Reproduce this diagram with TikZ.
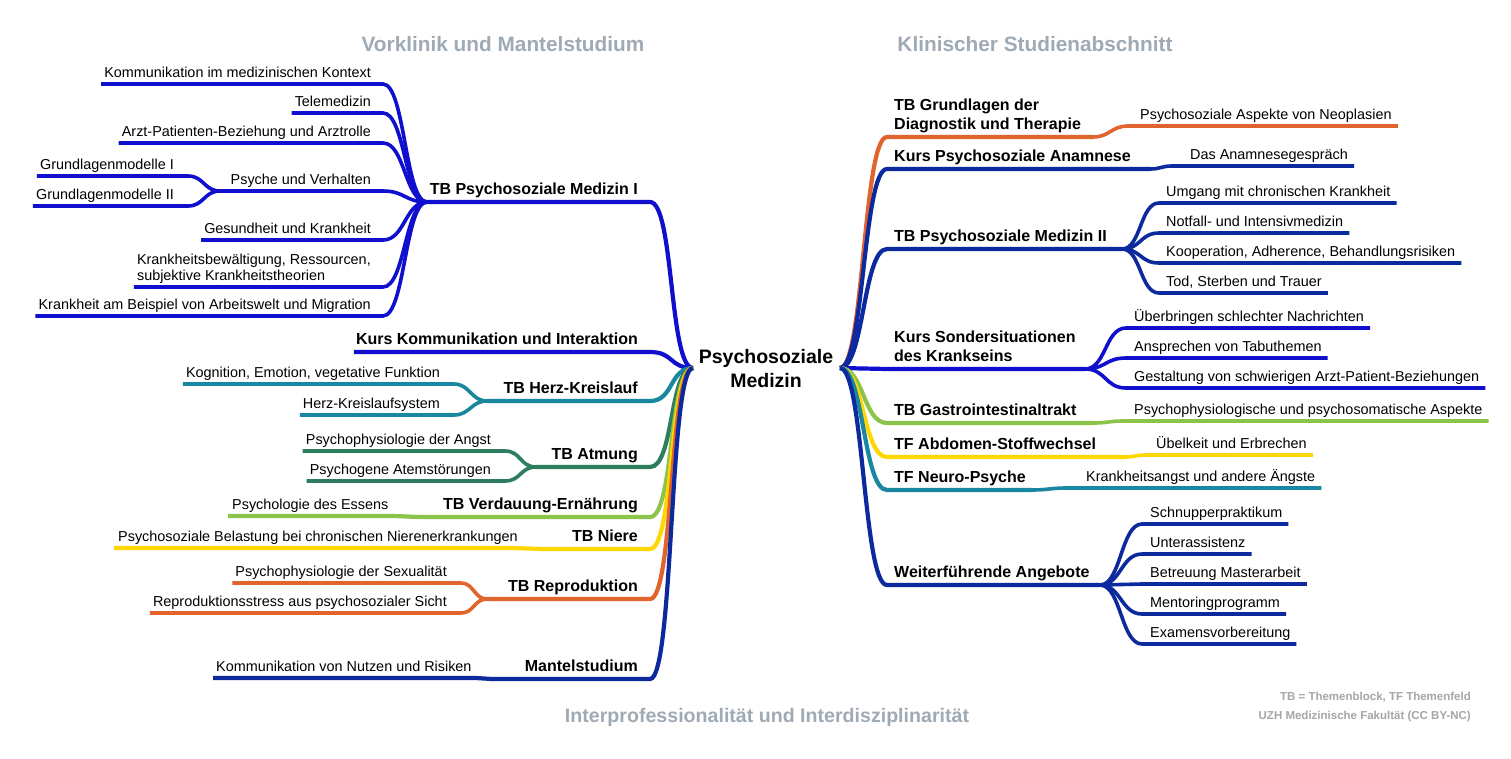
\documentclass[tikz,border=0pt]{standalone}
\usepackage{fontspec}
\setmainfont{Liberation Sans}
\usetikzlibrary{calc}
\definecolor{cBlue}{RGB}{15,15,205}
\definecolor{cNavy}{RGB}{12,42,158}
\definecolor{cTeal}{RGB}{25,135,160}
\definecolor{cGreen}{RGB}{45,125,95}
\definecolor{cLime}{RGB}{140,195,75}
\definecolor{cYellow}{RGB}{255,215,0}
\definecolor{cOrange}{RGB}{226,100,45}
\definecolor{cGray}{RGB}{160,170,180}
\definecolor{cGrayS}{RGB}{165,165,170}
\tikzset{
  t1/.style={font=\fontsize{16}{19}\selectfont\bfseries, inner sep=0pt, text=black},
  t2/.style={font=\fontsize{14.4}{16}\selectfont, inner sep=0pt, text=black},
  b1/.style={line width=4.2pt},
  b2/.style={line width=3.6pt},
  hdr/.style={font=\fontsize{20.8}{24}\selectfont\bfseries, text=cGray, inner sep=0pt},
  ftr/.style={font=\fontsize{19.6}{24}\selectfont\bfseries, text=cGray, inner sep=0pt},
  note/.style={font=\fontsize{11.5}{13}\selectfont\bfseries, text=cGrayS, inner sep=0pt},
}
% left leaf: name, color, hub, curve-end x, line y, text right x, text, control
\newcommand{\LKid}[8]{%
  \node[t2,anchor=base east] (#1) at (#6,#5-7) {#7};
  \coordinate (#1-r) at (#4,#5);
  \coordinate (#1-l) at ($(#1.west |- #1-r)+(-3,0)$);
  \draw[b2,#2] (#3) .. controls +(-#8,0) and +(#8,0) .. (#1-r) -- (#1-l);
}
% right leaf: name, color, hub, line start x, line y, text left x, text, control
\newcommand{\RKid}[8]{%
  \node[t2,anchor=base west] (#1) at (#6,#5-7) {#7};
  \coordinate (#1-l) at (#4,#5);
  \coordinate (#1-r) at ($(#1.east |- #1-l)+(6,0)$);
  \draw[b2,#2] (#3) .. controls +(#8,0) and +(-#8,0) .. (#1-l) -- (#1-r);
}
% left main branch: name, color, line y, hub x, text
\newcommand{\LMain}[5]{%
  \node[t1,anchor=base east] (#1) at (638,#3-8) {#5};
  \coordinate (#1-e) at (650,#3);
  \coordinate (#1-h) at (#4,#3);
  \draw[b1,#2] (rootL) .. controls +(-24,0) and +(24,0) .. (#1-e) -- (#1-h);
}
% right main branch: name, color, line y, hub x, text
\newcommand{\RMain}[5]{%
  \node[t1,anchor=base west] (#1) at (894,#3-8) {#5};
  \coordinate (#1-s) at (887,#3);
  \coordinate (#1-h) at (#4,#3);
  \draw[b1,#2] (rootR) .. controls +(24,0) and +(-24,0) .. (#1-s) -- (#1-h);
}
\begin{document}
\begin{tikzpicture}[x=1pt,y=-1pt]
\fill[white] (0,0) rectangle (1511,758);
\useasboundingbox (0,0) rectangle (1511,758);

% headers and footer
\node[hdr,anchor=base] (hv) at (503,51.5) {Vorklinik und Mantelstudium};
\node[hdr,anchor=base] (hk) at (1035,51.5) {Klinischer Studienabschnitt};
\node[ftr,anchor=base] (hi) at (767,722) {Interprofessionalität und Interdisziplinarität};
\node[note,anchor=base east] (n1) at (1471,700) {TB = Themenblock, TF Themenfeld};
\node[note,anchor=base east] (n2) at (1471,719) {UZH Medizinische Fakultät (CC BY-NC)};

% root
\node[font=\fontsize{19.5}{23.3}\selectfont\bfseries, inner sep=0pt, anchor=base] (root) at (766,387)
  {\begin{tabular}[b]{@{}c@{}}Psychosoziale\\Medizin\end{tabular}};
\coordinate (rootL) at (693,368);
\coordinate (rootR) at (840,368);

% ---------------- LEFT ----------------
\LMain{pm}{cBlue}{202}{427}{TB Psychosoziale Medizin I}
\LKid{pa}{cBlue}{pm-h}{383}{84}{371}{Kommunikation im medizinischen Kontext}{22}
\LKid{pb}{cBlue}{pm-h}{383}{113}{371}{Telemedizin}{22}
\LKid{pc}{cBlue}{pm-h}{383}{143}{371}{Arzt-Patienten-Beziehung und Arztrolle}{22}
\node[t2,anchor=base east] (pd) at (371,191-7) {Psyche und Verhalten};
\coordinate (pd-r) at (383,191);
\coordinate (pd-h) at (220,191);
\draw[b2,cBlue] (pm-h) .. controls +(-22,0) and +(22,0) .. (pd-r) -- (pd-h);
\LKid{pda}{cBlue}{pd-h}{188}{176}{174}{Grundlagenmodelle I}{16}
\LKid{pdb}{cBlue}{pd-h}{188}{206}{174}{Grundlagenmodelle II}{16}
\LKid{pe}{cBlue}{pm-h}{383}{240}{371}{Gesundheit und Krankheit}{22}
\LKid{pf}{cBlue}{pm-h}{383}{287}{371}{\begin{tabular}[b]{@{}l@{}}Krankheitsbewältigung, Ressourcen,\\subjektive Krankheitstheorien\end{tabular}}{22}
\LKid{pg}{cBlue}{pm-h}{383}{316}{371}{Krankheit am Beispiel von Arbeitswelt und Migration}{22}

\node[t1,anchor=base east] (kk) at (638,352-8) {Kurs Kommunikation und Interaktion};
\coordinate (kk-e) at (650,352);
\coordinate (kk-l) at ($(kk.west |- kk-e)+(-2,0)$);
\draw[b1,cBlue] (rootL) .. controls +(-24,0) and +(24,0) .. (kk-e) -- (kk-l);

\LMain{hk1}{cTeal}{401}{487}{TB Herz-Kreislauf}
\LKid{hka}{cTeal}{hk1-h}{454}{384}{440}{Kognition, Emotion, vegetative Funktion}{16}
\LKid{hkb}{cTeal}{hk1-h}{454}{415}{440}{Herz-Kreislaufsystem}{16}

\LMain{at}{cGreen}{467}{536}{TB Atmung}
\LKid{ata}{cGreen}{at-h}{505}{451}{491}{Psychophysiologie der Angst}{16}
\LKid{atb}{cGreen}{at-h}{505}{481}{491}{Psychogene Atemstörungen}{16}

\LMain{vd}{cLime}{517}{428}{TB Verdauung-Ernährung}
\node[t2,anchor=base west] (vda) at (232,516-7) {Psychologie des Essens};
\coordinate (vda-r) at (386,516);
\coordinate (vda-l) at ($(vda.west |- vda-r)+(-4,0)$);
\draw[b1,cLime] (vd-h) .. controls +(-20,0) and +(20,0) .. (vda-r) -- (vda-l);

\LMain{ni}{cYellow}{549}{543}{TB Niere}
\node[t2,anchor=base west] (nia) at (118,548-7) {Psychosoziale Belastung bei chronischen Nierenerkrankungen};
\coordinate (nia-r) at (513,548);
\coordinate (nia-l) at ($(nia.west |- nia-r)+(-4,0)$);
\draw[b1,cYellow] (ni-h) .. controls +(-15,0) and +(15,0) .. (nia-r) -- (nia-l);

\LMain{rp}{cOrange}{599}{487}{TB Reproduktion}
\LKid{rpa}{cOrange}{rp-h}{461}{583}{447}{Psychophysiologie der Sexualität}{13}
\LKid{rpb}{cOrange}{rp-h}{461}{613}{447}{Reproduktionsstress aus psychosozialer Sicht}{13}

\LMain{ms}{cNavy}{679}{492}{Mantelstudium}
\node[t2,anchor=base west] (msa) at (216,678-7) {Kommunikation von Nutzen und Risiken};
\coordinate (msa-r) at (476,678);
\coordinate (msa-l) at ($(msa.west |- msa-r)+(-3,0)$);
\draw[b1,cNavy] (ms-h) .. controls +(-8,0) and +(8,0) .. (msa-r) -- (msa-l);

% ---------------- RIGHT ----------------
\RMain{gd}{cOrange}{137}{1093}{\begin{tabular}[b]{@{}l@{}}TB Grundlagen der\\Diagnostik und Therapie\end{tabular}}
\RKid{gda}{cOrange}{gd-h}{1128}{126}{1140}{Psychosoziale Aspekte von Neoplasien}{17}

\RMain{an}{cNavy}{169}{1150}{Kurs Psychosoziale Anamnese}
\RKid{ana}{cNavy}{an-h}{1172}{166}{1190}{Das Anamnesegespräch}{11}

\RMain{m2}{cNavy}{249}{1122}{TB Psychosoziale Medizin II}
\RKid{m2a}{cNavy}{m2-h}{1159}{203}{1166}{Umgang mit chronischen Krankheit}{19}
\RKid{m2b}{cNavy}{m2-h}{1159}{233}{1166}{Notfall- und Intensivmedizin}{19}
\RKid{m2c}{cNavy}{m2-h}{1159}{263}{1166}{Kooperation, Adherence, Behandlungsrisiken}{19}
\RKid{m2d}{cNavy}{m2-h}{1159}{293}{1166}{Tod, Sterben und Trauer}{19}

\RMain{so}{cBlue}{369}{1085}{\begin{tabular}[b]{@{}l@{}}Kurs Sondersituationen\\des Krankseins\end{tabular}}
\RKid{soa}{cBlue}{so-h}{1126}{328}{1134}{Überbringen schlechter Nachrichten}{21}
\RKid{sob}{cBlue}{so-h}{1126}{358}{1134}{Ansprechen von Tabuthemen}{21}
\RKid{soc}{cBlue}{so-h}{1126}{388}{1134}{Gestaltung von schwierigen Arzt-Patient-Beziehungen}{21}

\RMain{gi}{cLime}{423}{1093}{TB Gastrointestinaltrakt}
\RKid{gia}{cLime}{gi-h}{1124}{421}{1134}{Psychophysiologische und psychosomatische Aspekte}{15}

\RMain{ab}{cYellow}{457}{1124}{TF Abdomen-Stoffwechsel}
\RKid{aba}{cYellow}{ab-h}{1146}{455}{1156}{Übelkeit und Erbrechen}{11}

\RMain{np}{cTeal}{490}{1031}{TF Neuro-Psyche}
\RKid{npa}{cTeal}{np-h}{1067}{488}{1086}{Krankheitsangst und andere Ängste}{18}

\RMain{wf}{cNavy}{585}{1100}{Weiterführende Angebote}
\RKid{wfa}{cNavy}{wf-h}{1142}{524}{1150}{Schnupperpraktikum}{21}
\RKid{wfb}{cNavy}{wf-h}{1142}{554}{1150}{Unterassistenz}{21}
\RKid{wfc}{cNavy}{wf-h}{1142}{584}{1150}{Betreuung Masterarbeit}{21}
\RKid{wfd}{cNavy}{wf-h}{1142}{614}{1150}{Mentoringprogramm}{21}
\RKid{wfe}{cNavy}{wf-h}{1142}{644}{1150}{Examensvorbereitung}{21}
\end{tikzpicture}
\end{document}
